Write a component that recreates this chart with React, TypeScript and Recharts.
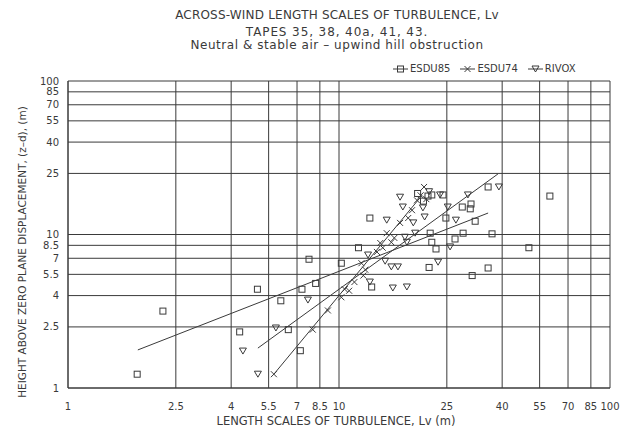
import React from 'react';
import { ScatterChart, Scatter, XAxis, YAxis, CartesianGrid, Legend, Label } from 'recharts';

const INK = '#3a3a3a';
const FONT = '"DejaVu Sans", sans-serif';

const axisTicks = [1, 2.5, 4, 5.5, 7, 8.5, 10, 25, 40, 55, 70, 85, 100];

const titleLines = [
  'ACROSS-WIND LENGTH SCALES OF TURBULENCE, Lv',
  'TAPES 35, 38, 40a, 41, 43.',
  'Neutral & stable air \u2013 upwind hill obstruction',
];

// ESDU85 (squares)
const esdu85X = [1.8, 2.24, 4.3, 5.0, 6.1, 6.5, 7.2, 7.3, 7.75, 8.2, 10.2, 11.8, 13.0, 13.2, 19.5, 20.5, 21.3, 22.0, 21.5, 21.7, 22.0, 22.8, 24.2, 24.8, 26.8, 28.7, 28.5, 30.7, 30.5, 31.8, 31.0, 35.5, 36.7, 35.5, 50.2, 60];
const esdu85Y = [1.23, 3.17, 2.32, 4.4, 3.7, 2.4, 1.75, 4.4, 6.9, 4.8, 6.5, 8.2, 12.8, 4.55, 18.5, 16.5, 17.8, 18.1, 6.1, 10.2, 8.9, 8.05, 18.1, 12.8, 9.35, 10.2, 15.1, 15.8, 14.7, 12.2, 5.4, 6.05, 10.1, 20.4, 8.2, 17.8];

// ESDU74 (crosses)
const esdu74X = [5.75, 8.0, 9.1, 10.2, 10.5, 10.9, 11.4, 12.3, 12.5, 12.1, 13.8, 14.5, 14.2, 15.0, 15.6, 16.0, 16.8, 18.0, 18.6, 19.4, 20.6, 20.0, 21.0];
const esdu74Y = [1.23, 2.4, 3.2, 3.9, 4.4, 4.3, 4.9, 5.4, 5.9, 6.5, 7.7, 8.2, 8.8, 10.2, 8.9, 9.5, 11.9, 12.8, 14.4, 16.7, 20.4, 18.0, 17.0];

// RIVOX (down triangles)
const rivoxX = [4.42, 5.02, 5.85, 7.68, 13.0, 15.8, 17.8, 15.6, 16.5, 23.2, 16.8, 17.2, 15.0, 18.8, 20.7, 23.6, 29.9, 27.0, 25.7, 17.8, 19.1, 12.8, 14.8, 38.9, 25.2, 20.4, 17.5, 21.5];
const rivoxY = [1.74, 1.23, 2.46, 3.74, 4.9, 4.48, 4.55, 6.15, 6.15, 6.6, 17.5, 15.1, 12.4, 11.9, 13.0, 18.1, 18.1, 12.4, 8.3, 8.9, 10.2, 7.35, 6.7, 20.4, 15.1, 14.9, 9.6, 19.0];

// fitted lines (end points)
const fit85X = [1.81, 35.5];
const fit85Y = [1.77, 13.8];
const fit74X = [5.75, 20.3];
const fit74Y = [1.23, 18.1];
const fitRivoxX = [5.02, 38.6];
const fitRivoxY = [1.82, 24.8];

const toPoints = (xs: number[], ys: number[]) => xs.map((x, i) => ({ x, y: ys[i] }));

const SquareMark = (p: any) => (
  <rect x={p.cx - 3} y={p.cy - 3} width={6} height={6} fill="none" stroke={INK} strokeWidth={1} />
);
const CrossMark = (p: any) => (
  <path d={`M${p.cx - 3},${p.cy - 3}L${p.cx + 3},${p.cy + 3}M${p.cx - 3},${p.cy + 3}L${p.cx + 3},${p.cy - 3}`} stroke={INK} strokeWidth={1} />
);
const TriMark = (p: any) => (
  <path d={`M${p.cx - 3.5},${p.cy - 3}L${p.cx + 3.5},${p.cy - 3}L${p.cx},${p.cy + 3}Z`} fill="none" stroke={INK} strokeWidth={1} />
);
const NoMark = () => <g />;

const legendItems = [
  { name: 'ESDU85', Mark: SquareMark },
  { name: 'ESDU74', Mark: CrossMark },
  { name: 'RIVOX', Mark: TriMark },
];

const LegendBox = () => (
  <div style={{ display: 'flex', fontFamily: FONT, fontSize: 10, color: INK, lineHeight: '12px' }}>
    {legendItems.map(({ name, Mark }) => (
      <div key={name} style={{ display: 'flex', alignItems: 'center', marginRight: 10 }}>
        <svg width={15} height={10}>
          <line x1={0} y1={5} x2={15} y2={5} stroke={INK} />
          <Mark cx={7.5} cy={5} />
        </svg>
        <span style={{ marginLeft: 2 }}>{name}</span>
      </div>
    ))}
  </div>
);

export default function App() {
  const textStyle = { fill: INK, fontSize: 10, fontFamily: FONT };
  const titleBase = { position: 'absolute' as const, left: 0, width: 674, textAlign: 'center' as const, fontFamily: FONT, color: INK, fontSize: 12, lineHeight: '14px' };
  return (
    <div style={{ position: 'absolute', left: 0, top: 0, width: 622, height: 434, background: '#fff' }}>
      <div style={{ ...titleBase, top: 8, letterSpacing: 0.2 }}>{titleLines[0]}</div>
      <div style={{ ...titleBase, top: 25, letterSpacing: 0.9 }}>{titleLines[1]}</div>
      <div style={{ ...titleBase, top: 38, letterSpacing: 0.55 }}>{titleLines[2]}</div>
      <ScatterChart width={622} height={434} margin={{ top: 81, right: 12, bottom: 0, left: 0 }}>
        <CartesianGrid stroke={INK} strokeWidth={1} />
        <XAxis
          dataKey="x"
          type="number"
          scale="log"
          domain={[1, 100]}
          allowDataOverflow
          ticks={axisTicks}
          interval={0}
          height={46}
          tickSize={0}
          tickMargin={15}
          tick={textStyle}
          axisLine={{ stroke: INK }}
        >
          <Label
            content={(props: any) => {
              const vb = props.viewBox;
              return (
                <text x={vb.x + vb.width / 2 - 3} y={vb.y + 37} textAnchor="middle" fill={INK} fontSize={11.5} fontFamily={FONT}>
                  LENGTH SCALES OF TURBULENCE, Lv  (m)
                </text>
              );
            }}
          />
        </XAxis>
        <YAxis
          dataKey="y"
          type="number"
          scale="log"
          domain={[1, 100]}
          allowDataOverflow
          ticks={axisTicks}
          interval={0}
          width={68}
          tickSize={0}
          tickMargin={9}
          tick={textStyle}
          axisLine={{ stroke: INK }}
        >
          <Label
            content={() => (
              <text x={22} y={252} transform="rotate(-90, 22, 252)" textAnchor="middle" dominantBaseline="central" fill={INK} fontSize={10.5} fontFamily={FONT}>
                HEIGHT ABOVE ZERO PLANE DISPLACEMENT,  (z{'\u2013'}d),  (m)
              </text>
            )}
          />
        </YAxis>
        <Legend
          layout="horizontal"
          verticalAlign="middle"
          content={() => <LegendBox />}
          wrapperStyle={{ top: 63, left: 393, width: 229 }}
        />
        <Scatter name="fit85" data={toPoints(fit85X, fit85Y)} line={{ stroke: INK, strokeWidth: 1 }} shape={NoMark} legendType="none" isAnimationActive={false} />
        <Scatter name="fit74" data={toPoints(fit74X, fit74Y)} line={{ stroke: INK, strokeWidth: 1 }} shape={NoMark} legendType="none" isAnimationActive={false} />
        <Scatter name="fitRivox" data={toPoints(fitRivoxX, fitRivoxY)} line={{ stroke: INK, strokeWidth: 1 }} shape={NoMark} legendType="none" isAnimationActive={false} />
        <Scatter name="ESDU85" data={toPoints(esdu85X, esdu85Y)} shape={SquareMark} isAnimationActive={false} />
        <Scatter name="ESDU74" data={toPoints(esdu74X, esdu74Y)} shape={CrossMark} isAnimationActive={false} />
        <Scatter name="RIVOX" data={toPoints(rivoxX, rivoxY)} shape={TriMark} isAnimationActive={false} />
      </ScatterChart>
    </div>
  );
}
